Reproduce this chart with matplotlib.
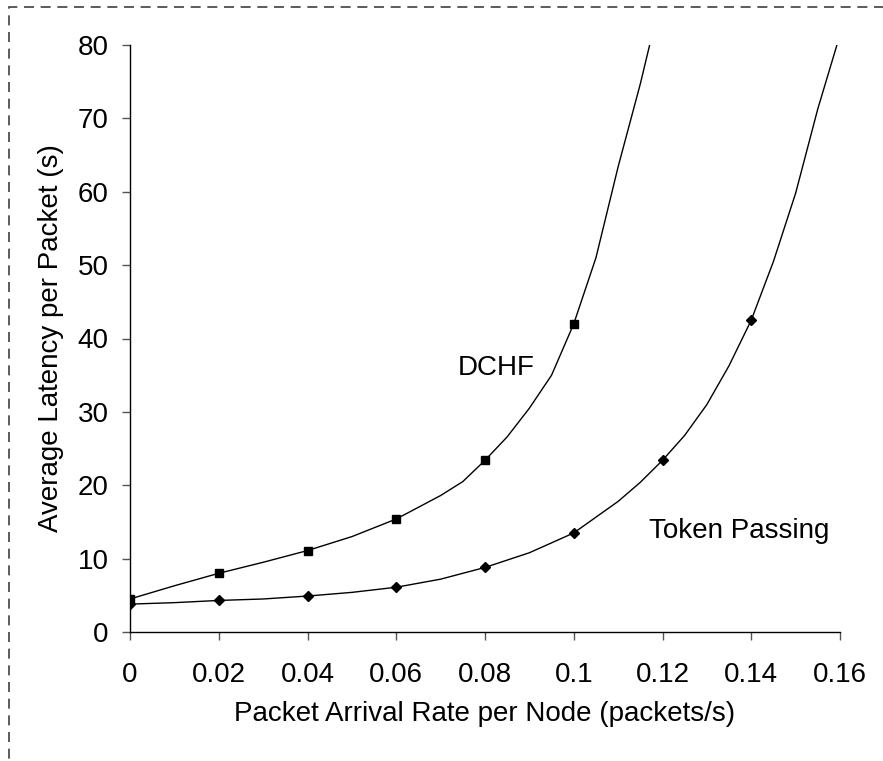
import numpy as np
import matplotlib.pyplot as plt
from matplotlib.patches import Rectangle

plt.rcParams['font.family'] = ['Liberation Sans', 'DejaVu Sans']

# DCHF curve (markers on the 0.02 points)
dchf_x = [0, 0.01, 0.02, 0.03, 0.04, 0.05, 0.06, 0.07, 0.075, 0.08, 0.085, 0.09, 0.095,
          0.1, 0.105, 0.11, 0.115, 0.1175]
dchf_y = [4.5, 6.3, 8.0, 9.5, 11.1, 13.0, 15.4, 18.6, 20.5, 23.4, 26.6, 30.5, 35.0,
          42.0, 51.0, 63.4, 74.7, 81.0]
dchf_mark = [0, 2, 4, 6, 9, 13]

# Token Passing curve
tp_x = [0, 0.01, 0.02, 0.03, 0.04, 0.05, 0.06, 0.07, 0.08, 0.09, 0.1, 0.11, 0.115, 0.12,
        0.125, 0.13, 0.135, 0.14, 0.145, 0.15, 0.155, 0.16]
tp_y = [3.8, 4.0, 4.3, 4.5, 4.9, 5.4, 6.1, 7.2, 8.8, 10.8, 13.5, 17.8, 20.4, 23.4,
        26.8, 31.0, 36.3, 42.5, 50.5, 59.8, 71.3, 81.4]
tp_mark = [0, 2, 4, 6, 8, 10, 13, 17]

x_ticks = [0, 0.02, 0.04, 0.06, 0.08, 0.1, 0.12, 0.14, 0.16]
x_labels = ['0', '0.02', '0.04', '0.06', '0.08', '0.1', '0.12', '0.14', '0.16']
y_ticks = [0, 10, 20, 30, 40, 50, 60, 70, 80]

fig = plt.figure(figsize=(8.83, 7.61), dpi=100)
ax = fig.add_axes([130/883, 129/761, 710/883, 587/761])

ax.plot(dchf_x, dchf_y, color='black', lw=1.0, marker='s', ms=5.5,
        markevery=dchf_mark)
ax.plot(tp_x, tp_y, color='black', lw=1.0, marker='D', ms=5.5,
        markevery=tp_mark)

ax.set_xlim(0, 0.16)
ax.set_ylim(0, 80)
ax.set_xticks(x_ticks)
ax.set_xticklabels(x_labels)
ax.set_yticks(y_ticks)
ax.tick_params(axis='both', labelsize=20, direction='out', length=5.5, width=1,
               color='#555555')
ax.tick_params(axis='x', pad=16)
ax.tick_params(axis='y', pad=10)
for s in ['top', 'right']:
    ax.spines[s].set_visible(False)
for s in ['left', 'bottom']:
    ax.spines[s].set_linewidth(1)
    ax.spines[s].set_color('black')

ax.set_xlabel('Packet Arrival Rate per Node (packets/s)', fontsize=20)
ax.set_ylabel('Average Latency per Packet (s)', fontsize=20)
ax.xaxis.set_label_coords(0.5, -0.1175)
ax.yaxis.set_label_coords(-0.093, 0.5)

ax.text(0.0739, 35.0, 'DCHF', fontsize=20, va='baseline', ha='left')
ax.text(0.117, 12.8, 'Token Passing', fontsize=20, va='baseline', ha='left')

# dashed chart-area border (right/bottom edges fall outside the image)
fig.patches.append(Rectangle((9/883, -0.1), 1.2, (761-7)/761 + 0.1, transform=fig.transFigure,
                             fill=False, ec='#404040', lw=1.2, ls=(0, (6, 4))))

fig.savefig('out.png', dpi=100)
